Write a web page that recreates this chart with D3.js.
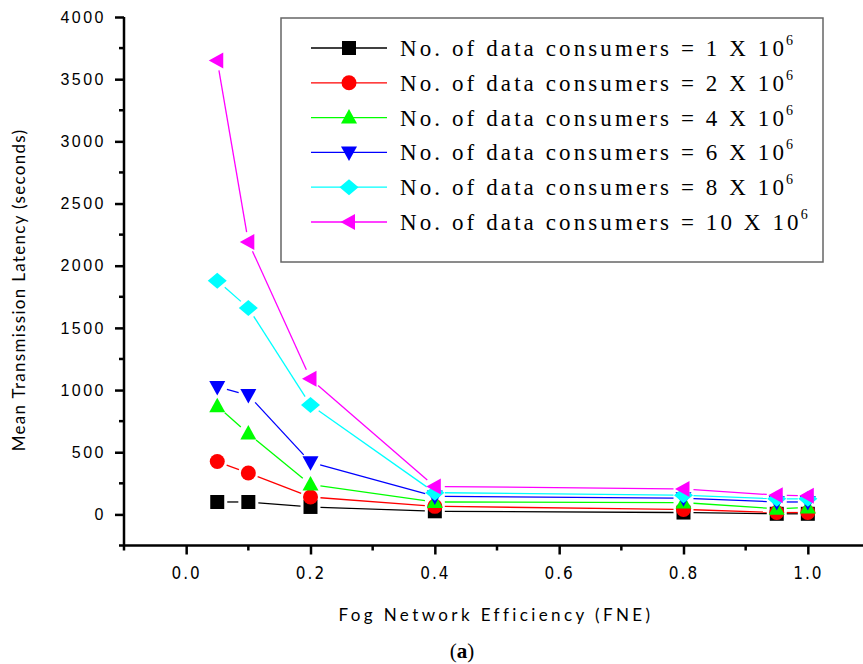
<!DOCTYPE html>
<meta charset="utf-8">
<html>
<head>
<script src="https://cdn.jsdelivr.net/npm/d3@7"></script>
<style>
body { margin:0; background:#fff; }
.ytick text { font-family:"Liberation Sans", Arial, sans-serif; font-size:16px; letter-spacing:2.5px; fill:#000; }
.xtick text { font-family:"Liberation Sans Narrow", "DejaVu Sans Condensed", sans-serif; font-size:17px; letter-spacing:2px; fill:#000; }
.axis-title { font-family:Lato, "Open Sans", sans-serif; font-size:17px; fill:#000; }
.legend text { font-family:"Liberation Serif", "Times New Roman", serif; font-size:23px; fill:#000; }
</style>
</head>
<body>
<div id="chart"></div>
<script>

// data
var fne = [0.05, 0.1, 0.2, 0.4, 0.8, 0.95, 1.0];
var consumers = ["1", "2", "4", "6", "8", "10"];
var lat1  = [100, 100, 60, 25, 15, 5, 5];
var lat2  = [425, 333, 140, 65, 40, 15, 15];
var lat4  = [870, 650, 240, 100, 95, 45, 55];
var lat6  = [1025, 960, 420, 145, 130, 100, 100];
var lat8  = [1880, 1660, 880, 175, 155, 125, 125];
var lat10 = [3650, 2190, 1090, 225, 205, 155, 150];
var yTicks = [0, 500, 1000, 1500, 2000, 2500, 3000, 3500, 4000];
var yMinor = [-250, 250, 750, 1250, 1750, 2250, 2750, 3250, 3750];
var xTicks = [0, 0.2, 0.4, 0.6, 0.8, 1.0];
var xMinor = [-0.1, 0.1, 0.3, 0.5, 0.7, 0.9, 1.1];

var colors = ["#000000", "#ff0000", "#00ff00", "#0000ff", "#00ffff", "#ff00ff"];
var shapes = ["square", "circle", "up", "down", "diamond", "left"];
var allSeries = [lat1, lat2, lat4, lat6, lat8, lat10];

var W = 863, H = 664;
var svg = d3.select("#chart").append("svg")
    .attr("width", W).attr("height", H);

var x = d3.scaleLinear().domain([-0.1, 1.1]).range([124, 870]);
var y = d3.scaleLinear().domain([-250, 4000]).range([545.5, 17]);

function marker(shape) {
  switch (shape) {
    case "square": return "M-7,-7h14v14h-14Z";
    case "circle": return "M-7.5,0a7.5,7.5 0 1,0 15,0a7.5,7.5 0 1,0 -15,0Z";
    case "up": return "M0,-8.5L8,6L-8,6Z";
    case "down": return "M0,8.5L8,-6L-8,-6Z";
    case "diamond": return "M0,-8L9.5,0L0,8L-9.5,0Z";
    case "left": return "M-8.5,0L6,-8L6,8Z";
  }
}

// axes
var yAxis = svg.append("g").attr("class", "ytick")
    .attr("transform", "translate(" + x(-0.1) + ",0)")
    .call(d3.axisLeft(y).tickValues(yTicks).tickSize(9).tickPadding(9).tickFormat(d3.format("d")));
yAxis.select(".domain").attr("stroke-width", 2.5).attr("d", "M0," + y(-250) + "V" + y(4000));
yAxis.selectAll(".tick line").attr("stroke-width", 2.5);
yAxis.selectAll(".minor").data(yMinor).enter().append("line")
    .attr("x1", -5).attr("x2", 0)
    .attr("y1", function(d) { return y(d); }).attr("y2", function(d) { return y(d); })
    .attr("stroke", "#000").attr("stroke-width", 2.5);

var xAxis = svg.append("g").attr("class", "xtick")
    .attr("transform", "translate(0," + y(-250) + ")")
    .call(d3.axisBottom(x).tickValues(xTicks).tickSize(9).tickPadding(12).tickFormat(d3.format(".1f")));
xAxis.select(".domain").attr("stroke-width", 2.5).attr("d", "M" + x(-0.1) + ",0H" + x(1.1));
xAxis.selectAll(".tick line").attr("stroke-width", 2.5);
xAxis.selectAll(".minor").data(xMinor).enter().append("line")
    .attr("y1", 0).attr("y2", 5)
    .attr("x1", function(d) { return x(d); }).attr("x2", function(d) { return x(d); })
    .attr("stroke", "#000").attr("stroke-width", 2.5);

// titles
svg.append("text").attr("class", "axis-title")
    .attr("transform", "translate(25,290) rotate(-90)")
    .attr("text-anchor", "middle")
    .style("letter-spacing", "1.3px")
    .text("Mean Transmission Latency (seconds)");
svg.append("text").attr("class", "axis-title")
    .attr("x", 496).attr("y", 621)
    .attr("text-anchor", "middle")
    .style("letter-spacing", "3.4px")
    .text("Fog Network Efficiency (FNE)");
var cap = svg.append("text").attr("x", 462).attr("y", 658)
    .attr("text-anchor", "middle")
    .style("font-family", "'Liberation Serif', serif").style("font-size", "21px");
cap.append("tspan").text("(");
cap.append("tspan").style("font-weight", "bold").text("a");
cap.append("tspan").text(")");

// lines with a gap around markers
var gap = 10;
allSeries.forEach(function(vals, i) {
  for (var k = 0; k < vals.length - 1; k++) {
    var x0 = x(fne[k]), y0 = y(vals[k]), x1 = x(fne[k + 1]), y1 = y(vals[k + 1]);
    var len = Math.hypot(x1 - x0, y1 - y0);
    if (len <= 2 * gap) continue;
    var ux = (x1 - x0) / len, uy = (y1 - y0) / len;
    svg.append("line")
      .attr("x1", x0 + ux * gap).attr("y1", y0 + uy * gap)
      .attr("x2", x1 - ux * gap).attr("y2", y1 - uy * gap)
      .attr("stroke", colors[i]).attr("stroke-width", 1.3);
  }
});

// markers
allSeries.forEach(function(vals, i) {
  svg.selectAll(".m" + i).data(vals).enter().append("path")
    .attr("transform", function(d, k) { return "translate(" + x(fne[k]) + "," + y(d) + ")"; })
    .attr("d", marker(shapes[i]))
    .attr("fill", colors[i]);
});

// legend
var lg = svg.append("g").attr("class", "legend");
lg.append("rect").attr("x", 281).attr("y", 18).attr("width", 542).attr("height", 244)
    .attr("fill", "#fff").attr("stroke", "#666").attr("stroke-width", 1.5);
consumers.forEach(function(c, i) {
  var ry = 48 + i * 34.8;
  lg.append("line").attr("x1", 311).attr("x2", 387).attr("y1", ry).attr("y2", ry)
    .attr("stroke", colors[i]).attr("stroke-width", 1.3);
  lg.append("path").attr("transform", "translate(349," + ry + ")")
    .attr("d", marker(shapes[i])).attr("fill", colors[i]);
  var t = lg.append("text").attr("x", 400).attr("y", ry + 8)
    .style("letter-spacing", "3.1px");
  t.append("tspan").text("No. of data consumers = " + c + " X 10");
  t.append("tspan").attr("dy", -11).attr("dx", -1).style("font-size", "14px").text("6");
});

</script>
</body>
</html>
